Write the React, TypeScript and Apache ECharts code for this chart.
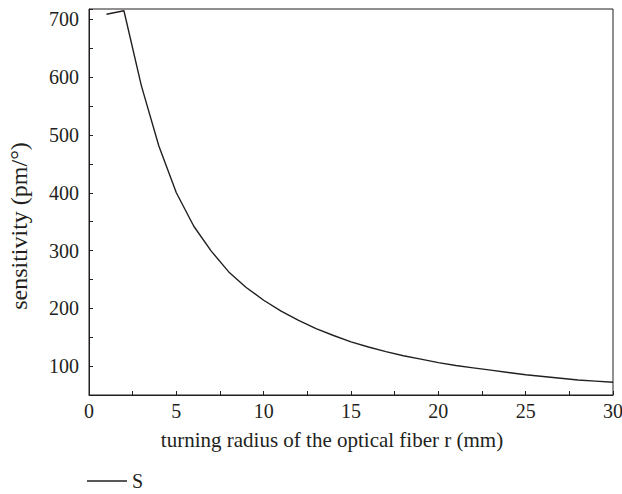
import React, { useEffect, useRef } from "react";
import * as echarts from "echarts";

const radius: number[] = [
  1, 2, 3, 4, 5, 6, 7, 8, 9, 10, 11, 12, 13, 14, 15, 16, 17, 18, 19, 20, 21, 22,
  23, 24, 25, 26, 27, 28, 29, 30,
];
const sensitivity: number[] = [
  709, 715, 585, 481, 400, 342, 299, 263, 236, 214, 195, 179, 165, 153, 142, 133,
  125, 118, 112, 106, 101, 97, 93, 89, 85, 82, 79, 76, 74, 72,
];
const seriesName = "S";
const xTitle = "turning radius of the optical fiber r (mm)";
const yTitle = "sensitivity (pm/°)";

const FONT = "Liberation Serif";
const INK = "#231f20";

export default function App() {
  const ref = useRef<HTMLDivElement>(null);
  useEffect(() => {
    if (!ref.current) return;
    const chart = echarts.init(ref.current, undefined, { renderer: "svg" });
    chart.setOption({
      animation: false,
      backgroundColor: "#ffffff",
      grid: {
        left: 89,
        right: 9,
        top: 9,
        bottom: 99,
        containLabel: false,
        outerBoundsMode: "none",
        show: true,
        borderColor: INK,
        borderWidth: 1,
        backgroundColor: "transparent",
      },
      legend: {
        left: 87,
        top: 471,
        padding: 0,
        itemWidth: 40,
        itemHeight: 1.3,
        itemGap: 10,
        icon: "rect",
        textStyle: { fontFamily: FONT, fontSize: 20, color: INK, lineHeight: 20 },
        data: [seriesName],
      },
      xAxis: {
        type: "value",
        min: 0,
        max: 30,
        interval: 2.5,
        name: xTitle,
        nameLocation: "middle",
        nameGap: 34,
        nameTextStyle: { fontFamily: FONT, fontSize: 21, color: INK, padding: [0, 38, 0, 0] },
        axisLine: { show: true, lineStyle: { color: INK, width: 1 } },
        axisTick: { show: true, inside: true, length: 4, lineStyle: { color: INK } },
        axisLabel: {
          fontFamily: FONT,
          fontSize: 20,
          color: INK,
          margin: 6,
          formatter: (v: number) => (v % 5 === 0 ? String(v) : ""),
        },
        splitLine: { show: false },
      },
      yAxis: {
        type: "value",
        min: 50,
        max: 718,
        interval: 50,
        name: yTitle,
        nameLocation: "middle",
        nameGap: 58,
        nameRotate: 90,
        nameTextStyle: { fontFamily: FONT, fontSize: 24, color: INK, padding: [0, 48, 0, 0] },
        axisLine: { show: true, lineStyle: { color: INK, width: 1 } },
        axisTick: { show: true, inside: true, length: 4, lineStyle: { color: INK } },
        axisLabel: {
          fontFamily: FONT,
          fontSize: 20,
          color: INK,
          margin: 10,
          formatter: (v: number) => (v % 100 === 0 ? String(v) : ""),
        },
        splitLine: { show: false },
      },
      series: [
        {
          name: seriesName,
          type: "line",
          data: radius.map((r, i) => [r, sensitivity[i]]),
          symbol: "none",
          lineStyle: { color: INK, width: 1.4 },
          itemStyle: { color: INK },
        },
      ],
    });
    return () => chart.dispose();
  }, []);
  return <div ref={ref} style={{ width: 622, height: 494, position: "absolute", left: 0, top: 0 }} />;
}
